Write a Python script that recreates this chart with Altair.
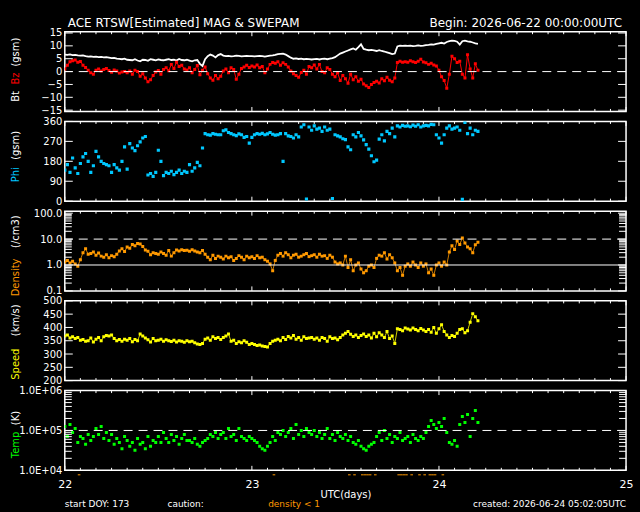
import altair as alt
import pandas as pd

# ACE real-time solar wind, 20-minute samples from 2026-06-22 00:00 UTC
START_DAY = 22
STEP = 1 / 72          # 20 minutes, in days
W, H = 563, 80         # plot area of each panel
FONT = "DejaVu Sans"

WHITE = "#ffffff"
RED = "#ff0000"
CYAN = "#00c8ff"
ORANGE = "#ff9900"
YELLOW = "#ffff00"
GREEN = "#00ff00"

# Bt (nT, gsm)
bt = [
    6.6, 6.5, 6.7, 6.4, 6.5, 6.3, 6.2, 6.3, 6.0, 5.8, 5.9, 5.7,
    5.8, 5.6, 5.7, 5.5, 5.6, 5.4, 5.2, 5.3, 5.0, 4.9, 4.8, 5.0,
    4.6, 4.5, 4.4, 4.8, 4.3, 4.0, 4.6, 4.5, 4.2, 4.8, 4.6, 4.4,
    4.7, 4.5, 4.4, 4.6, 4.8, 4.5, 4.6, 4.3, 4.9, 4.5, 4.4, 4.6,
    4.3, 4.0, 4.4, 4.5, 3.0, 2.2, 4.8, 6.0, 6.6, 6.2, 5.5, 6.4,
    6.8, 6.2, 6.0, 6.1, 5.9, 6.0, 6.2, 6.1, 5.9, 6.0, 6.1, 6.0,
    6.0, 5.9, 6.0, 6.1, 6.0, 5.8, 6.0, 6.2, 6.3, 6.5, 6.8, 6.9,
    7.0, 6.6, 6.0, 5.4, 5.0, 5.1, 4.9, 5.0, 4.8, 4.9, 4.8, 4.7,
    4.8, 4.9, 4.7, 4.9, 5.0, 4.8, 5.0, 5.2, 5.6, 6.3, 7.0, 7.4,
    7.8, 8.2, 8.6, 9.0, 8.5, 9.5, 10.6, 8.8, 8.5, 8.3, 8.4, 8.2,
    8.0, 8.3, 8.0, 7.8, 7.5, 7.2, 6.8, 7.0, 9.8, 10.1, 10.0, 10.1,
    10.0, 10.1, 9.9, 10.0, 10.2, 10.0, 10.1, 10.3, 10.4, 10.6, 10.5, 10.8,
    11.0, 11.2, 10.9, 11.5, 11.8, 12.0, 11.9, 11.6, 10.5, 11.8, 12.0, 11.7,
    11.6, 11.3, 11.0, 10.8,
]

# Bz (nT, gsm)
bz = [
    1.0, 2.5, 3.8, 4.2, 4.5, 3.6, 3.9, 2.5, 1.6, 0.5, -0.5, -1.0,
    0.5, 1.0, 0.2, 0.8, 1.2, 0.4, -0.3, 0.6, 0.2, -0.6, -0.2, 0.0,
    -0.5, 0.2, -1.0, 0.5, 0.0, -1.8, -0.8, -2.5, -4.0, -3.2, -1.5, -0.2,
    0.4, -1.0, 0.8, 1.5, 0.3, 2.8, 1.2, 3.6, 2.0, 2.5, 1.0, 0.6,
    1.5, -0.5, 0.8, 2.4, -1.2, 0.5, 1.8, -0.8, -2.5, -3.4, -1.5, -2.8,
    -1.8, 0.2, 1.0, -0.5, 1.5, 0.8, -3.0, -1.0, 1.2, 1.8, 2.5, 1.6,
    2.2, 1.8, 2.6, 1.5, 2.0, -0.5, 1.0, 2.8, 3.5, 3.2, 3.8, 2.5,
    3.4, 2.8, 1.8, 0.2, -0.8, -1.5, -2.2, -0.4, 0.5, -1.0, 2.0, 1.5,
    2.6, 1.0, 2.8, 0.0, -0.5, 1.5, 0.8, -1.0, -2.0, -0.5, -3.5, -1.5,
    -2.8, -4.5, -1.0, -3.2, -2.0, -3.8, -3.0, -4.8, -5.5, -6.2, -5.0, -4.2,
    -3.8, -4.4, -2.8, -3.6, -2.2, -3.4, -4.0, -2.5, 3.5, 4.0, 3.6, 3.8,
    3.6, 4.2, 3.8, 3.5, 4.0, 4.8, 3.7, 3.4, 2.8, 3.2, 2.6, 2.2,
    0.5, -2.0, -3.5, -6.5, -1.0, 6.0, 5.0, 3.5, 4.0, -1.0, -2.5, 6.5,
    1.0, -2.5, 3.0, 0.5,
]

# Phi (degrees, gsm)
phi = [
    140, 165, 130, 195, 150, 125, 170, 200, 215, 180, 130, 160,
    225, 200, 180, 170, 165, 160, 130, 165, 150, 140, 180, 245,
    145, 260, 240, 228, 250, 268, 285, 292, 118, 125, 112, 130,
    230, 180, 115, 130, 125, 135, 120, 130, 140, 125, 135, 130,
    165, 135, 150, 175, 160, 240, 305, 300, 298, 305, 302, 300,
    300, 318, 322, 310, 305, 300, 296, 304, 300, 288, 292, 262,
    288, 300, 305, 302, 306, 300, 304, 310, 302, 298, 300, 305,
    180, 305, 295, 292, 285, 300, 290, 335, 345, 10, 335, 320,
    340, 325, 330, 315, 335, 320, 325, 12, 300, 295, 290, 282,
    278, 245, 232, 300, 290, 310, 295, 277, 255, 235, 205, 178,
    185, 280, 300, 272, 315, 305, 330, 290, 340, 335, 342, 338,
    340, 336, 343, 338, 345, 335, 340, 342, 340, 347, 345, 300,
    285, 262, 300, 330, 340, 325, 330, 335, 320, 8, 355, 305,
    330, 300, 320, 315,
]

# Proton density (/cm3)
density = [
    1.3, 1.5, 1.2, 1.4, 1.1, 0.9, 1.6, 3.0, 4.2, 2.6, 2.8, 3.2,
    2.4, 2.9, 2.2, 2.0, 2.5, 1.9, 2.3, 2.1, 2.6, 3.5, 4.2, 3.3,
    5.0, 4.4, 6.2, 5.5, 6.8, 6.5, 5.2, 3.8, 3.4, 2.5, 3.0, 2.8,
    2.6, 3.2, 2.8, 2.4, 3.6, 2.2, 3.0, 3.8, 3.5, 3.9, 3.6, 3.7,
    3.4, 3.9, 3.5, 3.2, 3.0, 3.6, 2.6, 2.0, 1.6, 2.4, 1.8, 2.2,
    2.0, 1.7, 2.2, 1.9, 2.1, 1.5, 1.8, 2.3, 2.0, 1.6, 2.2, 1.9,
    2.1, 1.8, 2.3, 1.9, 2.0, 1.6, 1.4, 1.1, 0.6, 1.5, 2.4, 2.8,
    2.2, 3.0, 2.5, 1.9, 2.4, 2.6, 2.0, 2.2, 2.5, 2.8, 2.1, 2.3,
    2.5, 2.0, 2.6, 2.2, 2.3, 1.8, 2.4, 2.0, 1.3, 1.1, 1.2, 1.0,
    2.2, 0.8, 1.6, 0.6, 1.0, 1.2, 0.7, 0.5, 0.6, 0.9, 1.0, 0.8,
    1.8, 2.4, 2.2, 3.0, 1.7, 2.5, 1.9, 1.2, 0.6, 0.8, 0.4, 0.9,
    1.1, 0.9, 1.3, 1.0, 0.8, 1.2, 0.9, 1.1, 0.5, 0.7, 0.4, 1.0,
    1.2, 0.9, 1.3, 1.0, 3.2, 5.5, 4.0, 8.5, 6.2, 11.0, 7.0, 5.0,
    4.2, 3.0, 6.0, 7.5,
]

# Bulk speed (km/s)
speed = [
    368, 372, 360, 365, 358, 362, 352, 355, 348, 350, 360, 345,
    356, 362, 350, 365, 370, 368, 372, 358, 350, 355, 348, 356,
    352, 358, 346, 355, 350, 375, 368, 360, 354, 345, 358, 350,
    352, 356, 348, 354, 350, 347, 352, 345, 350, 348, 344, 350,
    346, 348, 342, 338, 336, 340, 356, 360, 352, 365, 358, 362,
    355, 362, 368, 375, 348, 352, 340, 346, 342, 350, 344, 336,
    340, 336, 332, 334, 330, 328, 326, 340, 348, 352, 356, 350,
    362, 355, 366, 360, 370, 356, 362, 352, 365, 358, 360, 362,
    356, 360, 352, 362, 358, 348, 365, 358, 360, 354, 362, 372,
    378, 385, 374, 366, 372, 362, 370, 375, 366, 372, 360, 378,
    365, 380, 372, 362, 385, 358, 368, 340, 395, 392, 388, 398,
    394, 390, 398, 392, 388, 396, 390, 385, 392, 382, 400, 378,
    395, 410, 385, 372, 362, 370, 366, 378, 392, 395, 380, 388,
    420, 452, 440, 425,
]

# Ion temperature (thousands of K)
temp_kK = [
    126, 71, 141, 89, 112, 50, 71, 63, 45, 79, 56, 71,
    112, 79, 126, 63, 89, 56, 79, 45, 63, 50, 35, 71,
    56, 40, 50, 32, 63, 45, 50, 35, 71, 40, 56, 50,
    71, 50, 89, 63, 50, 79, 56, 71, 45, 63, 79, 56,
    56, 50, 63, 45, 40, 50, 56, 63, 79, 71, 89, 63,
    79, 89, 63, 112, 71, 79, 56, 112, 71, 63, 56, 71,
    63, 56, 50, 40, 35, 32, 40, 50, 71, 56, 89, 79,
    100, 71, 89, 112, 63, 141, 79, 100, 71, 112, 89, 79,
    100, 71, 89, 63, 79, 112, 63, 79, 56, 89, 71, 63,
    79, 56, 71, 50, 45, 56, 40, 35, 32, 40, 45, 50,
    71, 89, 56, 100, 63, 79, 50, 71, 63, 89, 56, 63,
    71, 50, 79, 63, 56, 71, 63, 89, 126, 178, 141, 112,
    158, 126, 200, 89, 50, 45, 56, 40, 141, 224, 158, 251,
    71, 200, 316, 158,
]

# Axis tick values
day_labels = [22, 23, 24, 25]
bz_ticks = [-15, -10, -5, 0, 5, 10, 15]
phi_ticks = [0, 90, 180, 270, 360]
density_ticks = [0.1, 1, 10, 100]
density_minor = [m * d for d in (0.1, 1, 10) for m in range(2, 10)]
speed_ticks = [200, 250, 300, 350, 400, 450, 500]
temp_ticks = [1e4, 1e5, 1e6]
temp_minor = [m * d for d in (1e4, 1e5) for m in range(2, 10)]

n = len(bt)
df = pd.DataFrame({
    "day": [START_DAY + i * STEP for i in range(n)],
    "bt": bt, "bz": bz, "phi": phi, "density": density, "speed": speed,
    "temp": [v * 1000 for v in temp_kK],
})

XSCALE = alt.Scale(domain=[22, 25], nice=False, zero=False)
X_AXIS = alt.Axis(values=day_labels, format="d", ticks=False, tickSize=0, domain=False,
                  grid=False, labelColor=WHITE, labelFont=FONT, labelFontSize=11,
                  labelPadding=8, labelFlush=False, title=None)


def make_x(axis=None):
    def xdef(field):
        return alt.X(field, type="quantitative", scale=XSCALE, axis=axis)
    return xdef


def make_y(scale, values, fmt=None, expr=None):
    kw = dict(values=values, ticks=False, tickSize=0, domain=False, grid=False,
              labelColor=WHITE, labelFont=FONT, labelFontSize=10, labelPadding=3,
              labelFlush=False, labelOverlap=False, title=None)
    if fmt:
        kw["format"] = fmt
    if expr:
        kw["labelExpr"] = expr
    ax = alt.Axis(**kw)

    def ydef(field):
        return alt.Y(field, type="quantitative", scale=scale, axis=ax)
    return ydef


def y_ticks(ydef, values, length):
    d = pd.DataFrame({"v": values})
    base = alt.Chart(d).mark_rule(color=WHITE, strokeWidth=1)
    return [base.encode(y=ydef("v"), x=alt.value(0), x2=alt.value(length)),
            base.encode(y=ydef("v"), x=alt.value(W - length), x2=alt.value(W))]


xt_minor = pd.DataFrame({"day": [22 + k / 12 for k in range(37) if k % 12]})
xt_major = pd.DataFrame({"day": day_labels})


def x_ticks(xdef):
    out = []
    for d, length in ((xt_minor, 2.5), (xt_major, 4.5)):
        b = alt.Chart(d).mark_rule(color=WHITE, strokeWidth=1)
        out.append(b.encode(x=xdef("day"), y=alt.value(0), y2=alt.value(length)))
        out.append(b.encode(x=xdef("day"), y=alt.value(H - length), y2=alt.value(H)))
    return out


def label(text, color, x, y, size=10, angle=None, align="left", baseline="alphabetic"):
    kw = dict(font=FONT, fontSize=size, color=color, align=align, baseline=baseline)
    if angle is not None:
        kw["angle"] = angle
    return alt.Chart(pd.DataFrame({"s": [text]})).mark_text(**kw).encode(
        x=alt.value(x), y=alt.value(y), text="s:N")


def side_title(parts):
    return [label(t, c, -49, y, size=10, angle=270, align="center", baseline="middle")
            for t, c, y in parts]


def hline(ydef, value, dashed=True):
    kw = dict(color=WHITE, strokeWidth=1)
    if dashed:
        kw["strokeDash"] = [9, 6]
    return alt.Chart(pd.DataFrame({"v": [value]})).mark_rule(**kw).encode(y=ydef("v"))


def anchor(x, y):
    # invisible corner marker that fixes the overall canvas extent
    return alt.Chart(pd.DataFrame({"s": [0]})).mark_rule(
        color="black", strokeWidth=0).encode(
        x=alt.value(x), x2=alt.value(x), y=alt.value(y), y2=alt.value(y))


def dots(xdef, ydef, field, color, size=8):
    return alt.Chart(df).mark_square(color=color, size=size, opacity=1, clip=True).encode(
        x=xdef("day"), y=ydef(field))


def trace(xdef, ydef, field, color, width=1.0):
    return alt.Chart(df).mark_line(color=color, strokeWidth=width, clip=True).encode(
        x=xdef("day"), y=ydef(field))


xn = make_x()
xb = make_x(X_AXIS)

# Panel 1: Bt and Bz
y1 = make_y(alt.Scale(domain=[-15.5, 15.5], nice=False, zero=False), bz_ticks, fmt="d")
p1 = alt.layer(
    trace(xn, y1, "bt", WHITE, 1.8),
    trace(xn, y1, "bz", RED, 1.0),
    dots(xn, y1, "bz", RED, 9),
    hline(y1, 0),
    *y_ticks(y1, bz_ticks, 8),
    *x_ticks(xn),
    *side_title([("Bt", WHITE, 65), ("Bz", RED, 47), ("(gsm)", WHITE, 20.5)]),
    label("ACE RTSW[Estimated] MAG & SWEPAM", WHITE, 3, -5, size=12),
    label("Begin: 2026-06-22 00:00:00UTC", WHITE, 559, -5, size=12, align="right"),
    anchor(-64, -30),
).properties(width=W, height=H)

# Panel 2: Phi
y2 = make_y(alt.Scale(domain=[0, 360], nice=False, zero=False), phi_ticks, fmt="d")
p2 = alt.layer(
    dots(xn, y2, "phi", CYAN, 10),
    *y_ticks(y2, phi_ticks, 8),
    *x_ticks(xn),
    *side_title([("Phi", CYAN, 53.5), ("(gsm)", WHITE, 24)]),
).properties(width=W, height=H)

# Panel 3: density
y3 = make_y(alt.Scale(type="log", domain=[0.1, 120], nice=False), density_ticks, fmt=".1f")
p3 = alt.layer(
    trace(xn, y3, "density", ORANGE, 0.8),
    dots(xn, y3, "density", ORANGE, 9),
    hline(y3, 10),
    hline(y3, 1, dashed=False),
    *y_ticks(y3, density_ticks, 8),
    *y_ticks(y3, density_minor, 7),
    *x_ticks(xn),
    *side_title([("Density", ORANGE, 66.5), ("(/cm3)", WHITE, 20.5)]),
).properties(width=W, height=H)

# Panel 4: speed
y4 = make_y(alt.Scale(domain=[200, 500], nice=False, zero=False), speed_ticks, fmt="d")
p4 = alt.layer(
    trace(xn, y4, "speed", YELLOW, 0.8),
    dots(xn, y4, "speed", YELLOW, 9),
    *y_ticks(y4, speed_ticks, 8),
    *x_ticks(xn),
    *side_title([("Speed", YELLOW, 63.5), ("(km/s)", WHITE, 19.5)]),
).properties(width=W, height=H)

# Panel 5: temperature, day axis and footer
temp_expr = ("datum.value < 50000 ? '1.0E+04' : "
             "(datum.value < 500000 ? '1.0E+05' : '1.0E+06')")
y5 = make_y(alt.Scale(type="log", domain=[1e4, 1e6], nice=False), temp_ticks, expr=temp_expr)
caution = alt.Chart(df).transform_filter("datum.density < 1").transform_calculate(
    day_end=f"datum.day + {STEP}").mark_rule(color=ORANGE, strokeWidth=1).encode(
    x=xb("day"), x2="day_end:Q", y=alt.value(H + 4.5))
p5 = alt.layer(
    dots(xb, y5, "temp", GREEN, 9),
    hline(y5, 1e5),
    *y_ticks(y5, temp_ticks, 8),
    *y_ticks(y5, temp_minor, 7),
    *x_ticks(xb),
    caution,
    *side_title([("Temp", GREEN, 54.5), ("(K)", WHITE, 27.5)]),
    label("UTC(days)", WHITE, 282, 108, size=10, align="center"),
    label("start DOY: 173", WHITE, 0, 117, size=9),
    label("caution:", WHITE, 103, 117, size=9),
    label("density < 1", ORANGE, 204, 117, size=9),
    label("created: 2026-06-24 05:02:05UTC", WHITE, 563, 117, size=9, align="right"),
    anchor(576, H + 42),
).properties(width=W, height=H)

chart = alt.vconcat(p1, p2, p3, p4, p5, spacing=10, bounds="flush").properties(
    background="black", padding=0
).configure_view(stroke=WHITE, strokeWidth=1.5)

chart.save("out.html", embed_options={"renderer": "svg", "actions": False})
